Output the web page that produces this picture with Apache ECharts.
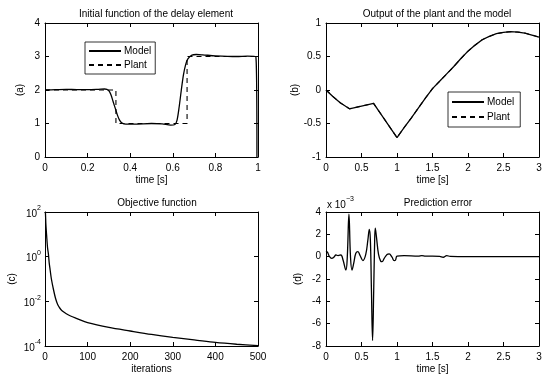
<!DOCTYPE html>
<html>
<head>
<meta charset="utf-8">
<script src="https://cdn.jsdelivr.net/npm/echarts@6/dist/echarts.min.js"></script>
<style>
html,body{margin:0;padding:0;background:#fff}
#main{width:552px;height:387px}
</style>
</head>
<body>
<div id="main"></div>
<script>
// (a) initial function of the delay element
var initTime  = [0, 0.05, 0.1, 0.15, 0.2, 0.25, 0.28, 0.3, 0.31, 0.32, 0.33, 0.34, 0.35, 0.36, 0.38, 0.42, 0.5, 0.55, 0.59, 0.61, 0.62, 0.63, 0.64, 0.65, 0.66, 0.67, 0.69, 0.71, 0.74, 0.8, 0.9, 0.95, 0.99, 0.995];
var initModel = [2.0, 2.01, 2.02, 2.01, 2.01, 2.02, 2.03, 1.98, 1.85, 1.65, 1.45, 1.25, 1.1, 1.02, 0.98, 0.98, 1.0, 0.99, 0.95, 0.97, 1.1, 1.5, 2.0, 2.45, 2.75, 2.92, 3.04, 3.06, 3.05, 3.02, 3.0, 3.01, 2.99, 0];
var plantTime  = [0, 0.333, 0.333, 0.667, 0.667, 1];
var plantValue = [2, 2, 1, 1, 3, 3];

// (b) output of plant and model
var outTime  = [0, 0.1, 0.2, 0.33, 0.67, 1.0, 1.1, 1.2, 1.3, 1.4, 1.5, 1.6, 1.7, 1.8, 1.9, 2.0, 2.1, 2.2, 2.3, 2.4, 2.5, 2.6, 2.7, 2.8, 2.9, 3.0];
var outModel = [0, -0.1, -0.19, -0.28, -0.2, -0.71, -0.56, -0.42, -0.27, -0.12, 0.02, 0.13, 0.24, 0.35, 0.47, 0.58, 0.67, 0.75, 0.8, 0.84, 0.86, 0.87, 0.865, 0.85, 0.82, 0.79];
var outPlant = outModel.slice();

// (c) objective function
var iterations = [0, 1, 2, 4, 6, 8, 10, 12, 15, 20, 25, 30, 35, 40, 50, 60, 75, 100, 150, 200, 250, 300, 350, 400, 450, 500];
var objective  = [100, 90, 30, 8, 2.5, 1.3, 0.5, 0.26, 0.1, 0.033, 0.013, 0.007, 0.0049, 0.0038, 0.0028, 0.0022, 0.0017, 0.00112, 0.00068, 0.00047, 0.00033, 0.000245, 0.00019, 0.000145, 0.00012, 0.000104];

// (d) prediction error, in units of 1e-3
var errTime  = [0, 0.02, 0.05, 0.08, 0.11, 0.14, 0.17, 0.21, 0.24, 0.28, 0.30, 0.323, 0.345, 0.366, 0.39, 0.42, 0.45, 0.48, 0.52, 0.56, 0.59, 0.61, 0.625, 0.64, 0.656, 0.672, 0.684, 0.694, 0.71, 0.74, 0.77, 0.79, 0.82, 0.86, 0.89, 0.93, 0.96, 0.98, 1.0, 1.1, 1.3, 1.35, 1.4, 1.6, 1.65, 1.7, 1.75, 2.0, 3.0];
var errValue = [0.5, 0.4, 0.0, -0.15, -0.05, 0.15, 0.1, 0.15, -0.3, -1.2, 0.0, 3.8, 0.0, -1.2, -0.6, 0.3, 0.45, 0.1, -0.35, 0.2, 1.5, 2.45, 1.5, -3.0, -7.5, -3.0, 1.0, 2.55, 1.8, 0.2, -0.4, -0.45, -0.15, 0.2, 0.25, -0.05, -0.35, -0.3, 0.05, 0.1, 0.05, 0.1, 0.05, 0.03, -0.05, 0.1, 0.02, 0.0, 0.0];

function pairs(xs, ys) {
    var out = [];
    for (var i = 0; i < xs.length; i++) {
        out.push([xs[i], ys[i]]);
    }
    return out;
}

var font = 'Liberation Sans, Arial, sans-serif';
var black = '#000';

// one grid gets a bottom/left axis with labels and a mirrored top/right axis with ticks only
function xPair(gi, min, max, interval, name) {
    var base = {
        type: 'value', gridIndex: gi, min: min, max: max, interval: interval,
        axisLine: {show: true, onZero: false, lineStyle: {color: black, width: 1}},
        axisTick: {show: true, inside: true, length: 4, lineStyle: {color: black}},
        splitLine: {show: false}
    };
    var bottom = Object.assign({}, base, {
        position: 'bottom', name: name, nameLocation: 'middle', nameGap: 18,
        nameTextStyle: {color: black, fontSize: 10, fontFamily: font},
        axisLabel: {color: black, fontSize: 10, fontFamily: font, margin: 6}
    });
    var top = Object.assign({}, base, {position: 'top', axisLabel: {show: false}});
    return [bottom, top];
}

function yPair(gi, min, max, interval, name, gap, extra) {
    var base = {
        type: 'value', gridIndex: gi, min: min, max: max, interval: interval,
        axisLine: {show: true, onZero: false, lineStyle: {color: black, width: 1}},
        axisTick: {show: true, inside: true, length: 4, lineStyle: {color: black}},
        splitLine: {show: false}
    };
    var left = Object.assign({}, base, {
        position: 'left', name: name, nameLocation: 'middle', nameGap: gap, nameRotate: 90,
        nameTextStyle: {color: black, fontSize: 10, fontFamily: font},
        axisLabel: {color: black, fontSize: 10, fontFamily: font, margin: 5}
    }, extra || {});
    var right = Object.assign({}, base, {position: 'right', axisLabel: {show: false}}, extra ? {type: extra.type, logBase: extra.logBase} : {});
    return [left, right];
}

var supRich = {
    b: {fontSize: 10, fontWeight: 'normal', fontFamily: font, color: black, lineHeight: 14, verticalAlign: 'bottom'},
    s: {fontSize: 7, fontWeight: 'normal', fontFamily: font, color: black, lineHeight: 14, verticalAlign: 'top'}
};

var logLabel = {
    color: black, fontSize: 10, fontFamily: font, margin: 4,
    formatter: function (v) {
        var e = Math.round(Math.log10(v));
        return '{b|10}{s|' + e + '}';
    },
    rich: supRich
};

var xa = xPair(0, 0, 1, 0.2, 'time [s]');
var xb = xPair(1, 0, 3, 0.5, 'time [s]');
var xc = xPair(2, 0, 500, 100, 'iterations');
var xd = xPair(3, 0, 3, 0.5, 'time [s]');
var ya = yPair(0, 0, 4, 1, '(a)', 20);
var yb = yPair(1, -1, 1, 0.5, '(b)', 26);
var yc = yPair(2, 0.0001, 100, 2, '(c)', 28, {type: 'log', logBase: 10, axisLabel: logLabel});
var yd = yPair(3, -8, 4, 2, '(d)', 23);

var titleStyle = {color: black, fontSize: 10, fontWeight: 'normal', fontFamily: font};

var lineSolid = {color: black, width: 1.3, type: 'solid'};
var lineDash = {color: black, width: 1.1, type: [5, 4]};

var legendBase = {
    data: ['Model', 'Plant'], orient: 'vertical',
    itemWidth: 32, itemHeight: 10, itemGap: 4,
    itemStyle: {opacity: 0, borderWidth: 0},
    borderColor: black, borderWidth: 0.8, backgroundColor: '#fff',
    textStyle: {color: black, fontSize: 10, fontFamily: font, padding: [0, 0, 0, -2]}
};

var myChart = echarts.init(document.getElementById('main'));
var option = {
    animation: false,
    backgroundColor: '#fff',
    title: [
        {text: 'Initial function of the delay element', left: 151, top: 4, textAlign: 'center', textStyle: titleStyle},
        {text: 'Output of the plant and the model', left: 432, top: 4, textAlign: 'center', textStyle: titleStyle},
        {text: 'Objective function', left: 152, top: 193, textAlign: 'center', textStyle: titleStyle},
        {text: 'Prediction error', left: 433, top: 193, textAlign: 'center', textStyle: titleStyle},
        {text: '{b|x 10}{s|\u22123}', left: 322, top: 191, textStyle: {fontWeight: 'normal', rich: supRich}}
    ],
    legend: [
        Object.assign({}, legendBase, {left: 85, top: 42, padding: [4, 4, 4, 3]}),
        Object.assign({}, legendBase, {left: 448, top: 92, padding: [5, 6, 5, 3], itemGap: 5})
    ],
    grid: [
        {left: 45, top: 23, width: 213, height: 134},
        {left: 326, top: 23, width: 213, height: 134},
        {left: 45, top: 212, width: 213, height: 134},
        {left: 326, top: 212, width: 213, height: 134}
    ],
    xAxis: [xa[0], xa[1], xb[0], xb[1], xc[0], xc[1], xd[0], xd[1]],
    yAxis: [ya[0], ya[1], yb[0], yb[1], yc[0], yc[1], yd[0], yd[1]],
    series: [
        {name: 'Plant', type: 'line', xAxisIndex: 0, yAxisIndex: 0, data: pairs(plantTime, plantValue), symbol: 'none', lineStyle: lineDash, itemStyle: {color: black}},
        {name: 'Model', type: 'line', xAxisIndex: 0, yAxisIndex: 0, data: pairs(initTime, initModel), symbol: 'none', smooth: 0.3, lineStyle: lineSolid, itemStyle: {color: black}},
        {name: 'Plant', type: 'line', xAxisIndex: 2, yAxisIndex: 2, data: pairs(outTime, outPlant), symbol: 'none', lineStyle: lineDash, itemStyle: {color: black}},
        {name: 'Model', type: 'line', xAxisIndex: 2, yAxisIndex: 2, data: pairs(outTime, outModel), symbol: 'none', lineStyle: lineSolid, itemStyle: {color: black}},
        {name: 'Objective', type: 'line', xAxisIndex: 4, yAxisIndex: 4, data: pairs(iterations, objective), symbol: 'none', smooth: 0.3, lineStyle: lineSolid, itemStyle: {color: black}},
        {name: 'Error', type: 'line', xAxisIndex: 6, yAxisIndex: 6, data: pairs(errTime, errValue), symbol: 'none', smooth: 0.4, lineStyle: lineSolid, itemStyle: {color: black}}
    ]
};
myChart.setOption(option);
</script>
</body>
</html>
